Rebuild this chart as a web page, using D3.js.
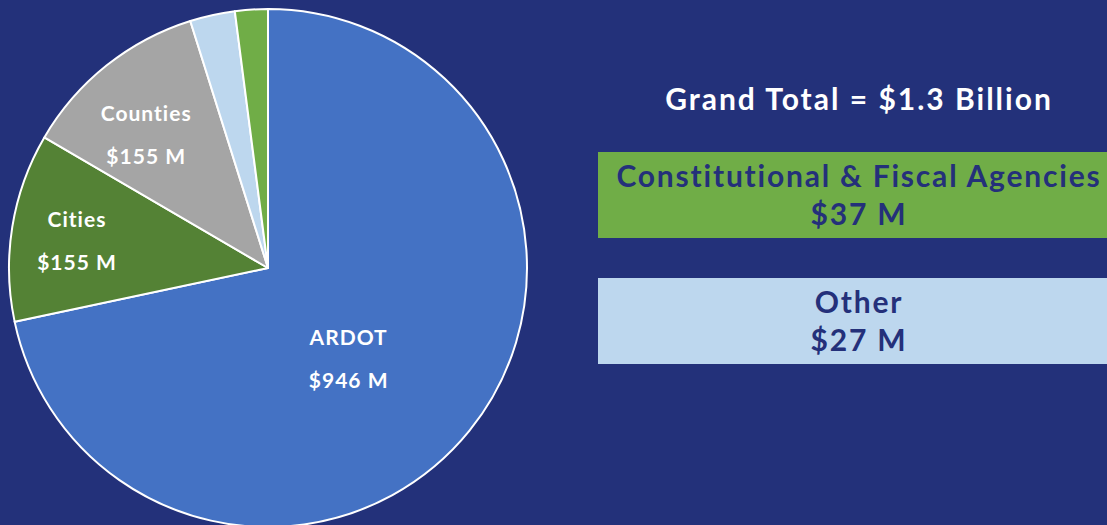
<!DOCTYPE html>
<html>
<head>
<meta charset="utf-8">
<script src="https://cdn.jsdelivr.net/npm/d3@7/dist/d3.min.js"></script>
<style>
    html, body { margin: 0; padding: 0; background: #23317a; overflow: hidden; }
    text { font-family: Lato, "Open Sans", sans-serif; font-weight: 700; }
</style>
</head>
<body>
<div id="chart"></div>
<script>
// slices, clockwise from 12 o'clock
const sliceNames = ["ARDOT", "Cities", "Counties", "Other", "Constitutional & Fiscal Agencies"];
const sliceValues = [946, 155, 155, 37, 27];
const sliceColors = ["#4472c4", "#548235", "#a5a5a5", "#bdd7ee", "#70ad47"];

// labels printed inside the pie
const pieLabelNames = ["ARDOT", "Cities", "Counties"];
const pieLabelValues = ["$946 M", "$155 M", "$155 M"];

// boxes on the right
const boxTitles = ["Constitutional & Fiscal Agencies", "Other"];
const boxValues = ["$37 M", "$27 M"];
const boxColors = ["#70ad47", "#bdd7ee"];
const grandTotal = "Grand Total = $1.3 Billion";

const width = 1107, height = 525;
const bg = "#23317a", textDark = "#24307a";

const svg = d3.select("#chart").append("svg")
    .attr("width", width)
    .attr("height", height);

svg.append("rect").attr("width", width).attr("height", height).attr("fill", bg);

// ---- pie ----
const cx = 268, cy = 268, r = 259;
const pie = d3.pie().sort(null).value(d => d);
const arc = d3.arc().innerRadius(0).outerRadius(r);
const arcs = pie(sliceValues);

const g = svg.append("g").attr("transform", `translate(${cx},${cy})`);

g.selectAll("path")
    .data(arcs)
    .enter()
    .append("path")
    .attr("d", arc)
    .attr("fill", (d, i) => sliceColors[i])
    .attr("stroke", "#fff")
    .attr("stroke-width", 2)
    .attr("stroke-linejoin", "round");

// where each label sits: fraction of radius, and turn (degrees) off the slice middle
const labelRadius = [0.47, 0.745, 0.695];
const labelTurn = [9.5, -1, -4];
pieLabelNames.forEach((name, i) => {
    const a = arcs[i];
    const mid = (a.startAngle + a.endAngle) / 2 + labelTurn[i] * Math.PI / 180;
    const rr = r * labelRadius[i];
    const x = Math.sin(mid) * rr, y = -Math.cos(mid) * rr;
    const t = g.append("text")
        .attr("text-anchor", "middle")
        .attr("fill", "#fff")
        .style("font-size", "21px")
        .style("letter-spacing", "1px");
    t.append("tspan").attr("x", x).attr("y", y - 14).text(name);
    t.append("tspan").attr("x", x).attr("y", y + 29).text(pieLabelValues[i]);
});

// ---- right side ----
const boxX = 598, boxW = width - boxX, boxH = 86;
const textX = 859;

svg.append("text")
    .attr("x", textX)
    .attr("y", 110)
    .attr("text-anchor", "middle")
    .attr("fill", "#fff")
    .style("font-size", "30px")
    .style("letter-spacing", "2px")
    .text(grandTotal);

boxTitles.forEach((title, i) => {
    const y0 = 152 + i * 126;
    svg.append("rect")
        .attr("x", boxX).attr("y", y0)
        .attr("width", boxW).attr("height", boxH)
        .attr("fill", boxColors[i]);
    const t = svg.append("text")
        .attr("text-anchor", "middle")
        .attr("fill", textDark)
        .style("font-size", "30px")
        .style("letter-spacing", "1.8px");
    t.append("tspan").attr("x", textX).attr("y", y0 + 35).text(title);
    t.append("tspan").attr("x", textX).attr("y", y0 + 73).text(boxValues[i]);
});
</script>
</body>
</html>
